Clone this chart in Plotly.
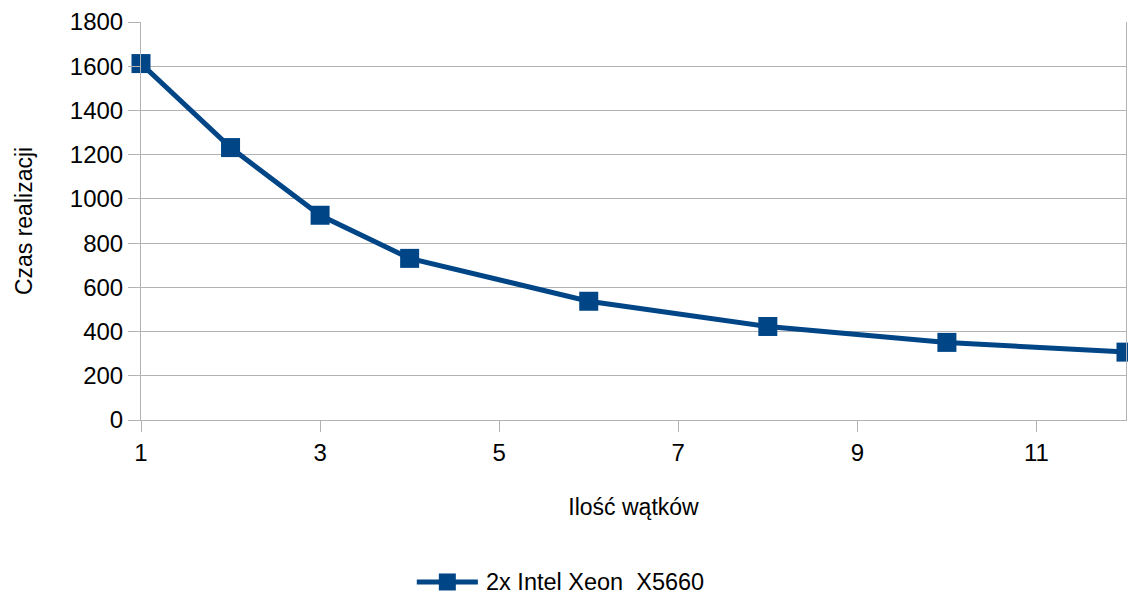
import plotly.graph_objects as go

# Thread count vs. execution time
threads = [1, 2, 3, 4, 6, 8, 10, 12]
exec_time = [1612, 1232, 926, 731, 537, 423, 351, 307]
series_name = "2x Intel Xeon  X5660"

FONT = "Liberation Sans, Arial, sans-serif"
BLUE = "#004586"
GRID = "#b3b3b3"

fig = go.Figure()
fig.add_trace(go.Scatter(
    x=threads, y=exec_time, name=series_name,
    mode="lines+markers",
    line=dict(color=BLUE, width=5),
    marker=dict(symbol="square", size=19, color=BLUE),
    cliponaxis=False, showlegend=False,
))

# Legend drawn below the plot: a long line key with a square in the middle
LEG_Y = -0.407
fig.add_shape(type="line", xref="paper", yref="paper",
              x0=0.280, x1=0.342, y0=LEG_Y, y1=LEG_Y,
              line=dict(color=BLUE, width=5))
fig.add_shape(type="rect", xref="paper", yref="paper",
              xsizemode="pixel", ysizemode="pixel",
              xanchor=0.311, yanchor=LEG_Y, x0=-8.5, x1=8.5, y0=-8.5, y1=8.5,
              fillcolor=BLUE, line=dict(width=0))
fig.add_annotation(xref="paper", yref="paper", x=0.349, y=LEG_Y,
                   xanchor="left", yanchor="middle", showarrow=False, borderpad=0,
                   text=series_name, font=dict(size=23.5, family=FONT, color="black"))

fig.update_layout(
    width=1128, height=596,
    margin=dict(l=141, r=2, t=22, b=176),
    paper_bgcolor="white", plot_bgcolor="white",
    font=dict(family=FONT, color="black"),
    showlegend=False,
    xaxis=dict(
        range=[1, 12], tick0=1, dtick=2, ticks="outside", ticklen=11,
        tickcolor=GRID, showgrid=False, zeroline=False,
        showline=True, linecolor=GRID, linewidth=1,
        tickfont=dict(size=24),
        title=dict(text="Ilość wątków", font=dict(size=23), standoff=34),
    ),
    yaxis=dict(
        range=[0, 1800], dtick=200, ticks="outside", ticklen=12,
        tickcolor=GRID, showgrid=True, gridcolor=GRID, gridwidth=1,
        zeroline=False, showline=True, mirror=True, linecolor=GRID, linewidth=1,
        tickfont=dict(size=24),
        title=dict(text="Czas realizacji", font=dict(size=23), standoff=30),
    ),
)

fig.write_html("out.html")
